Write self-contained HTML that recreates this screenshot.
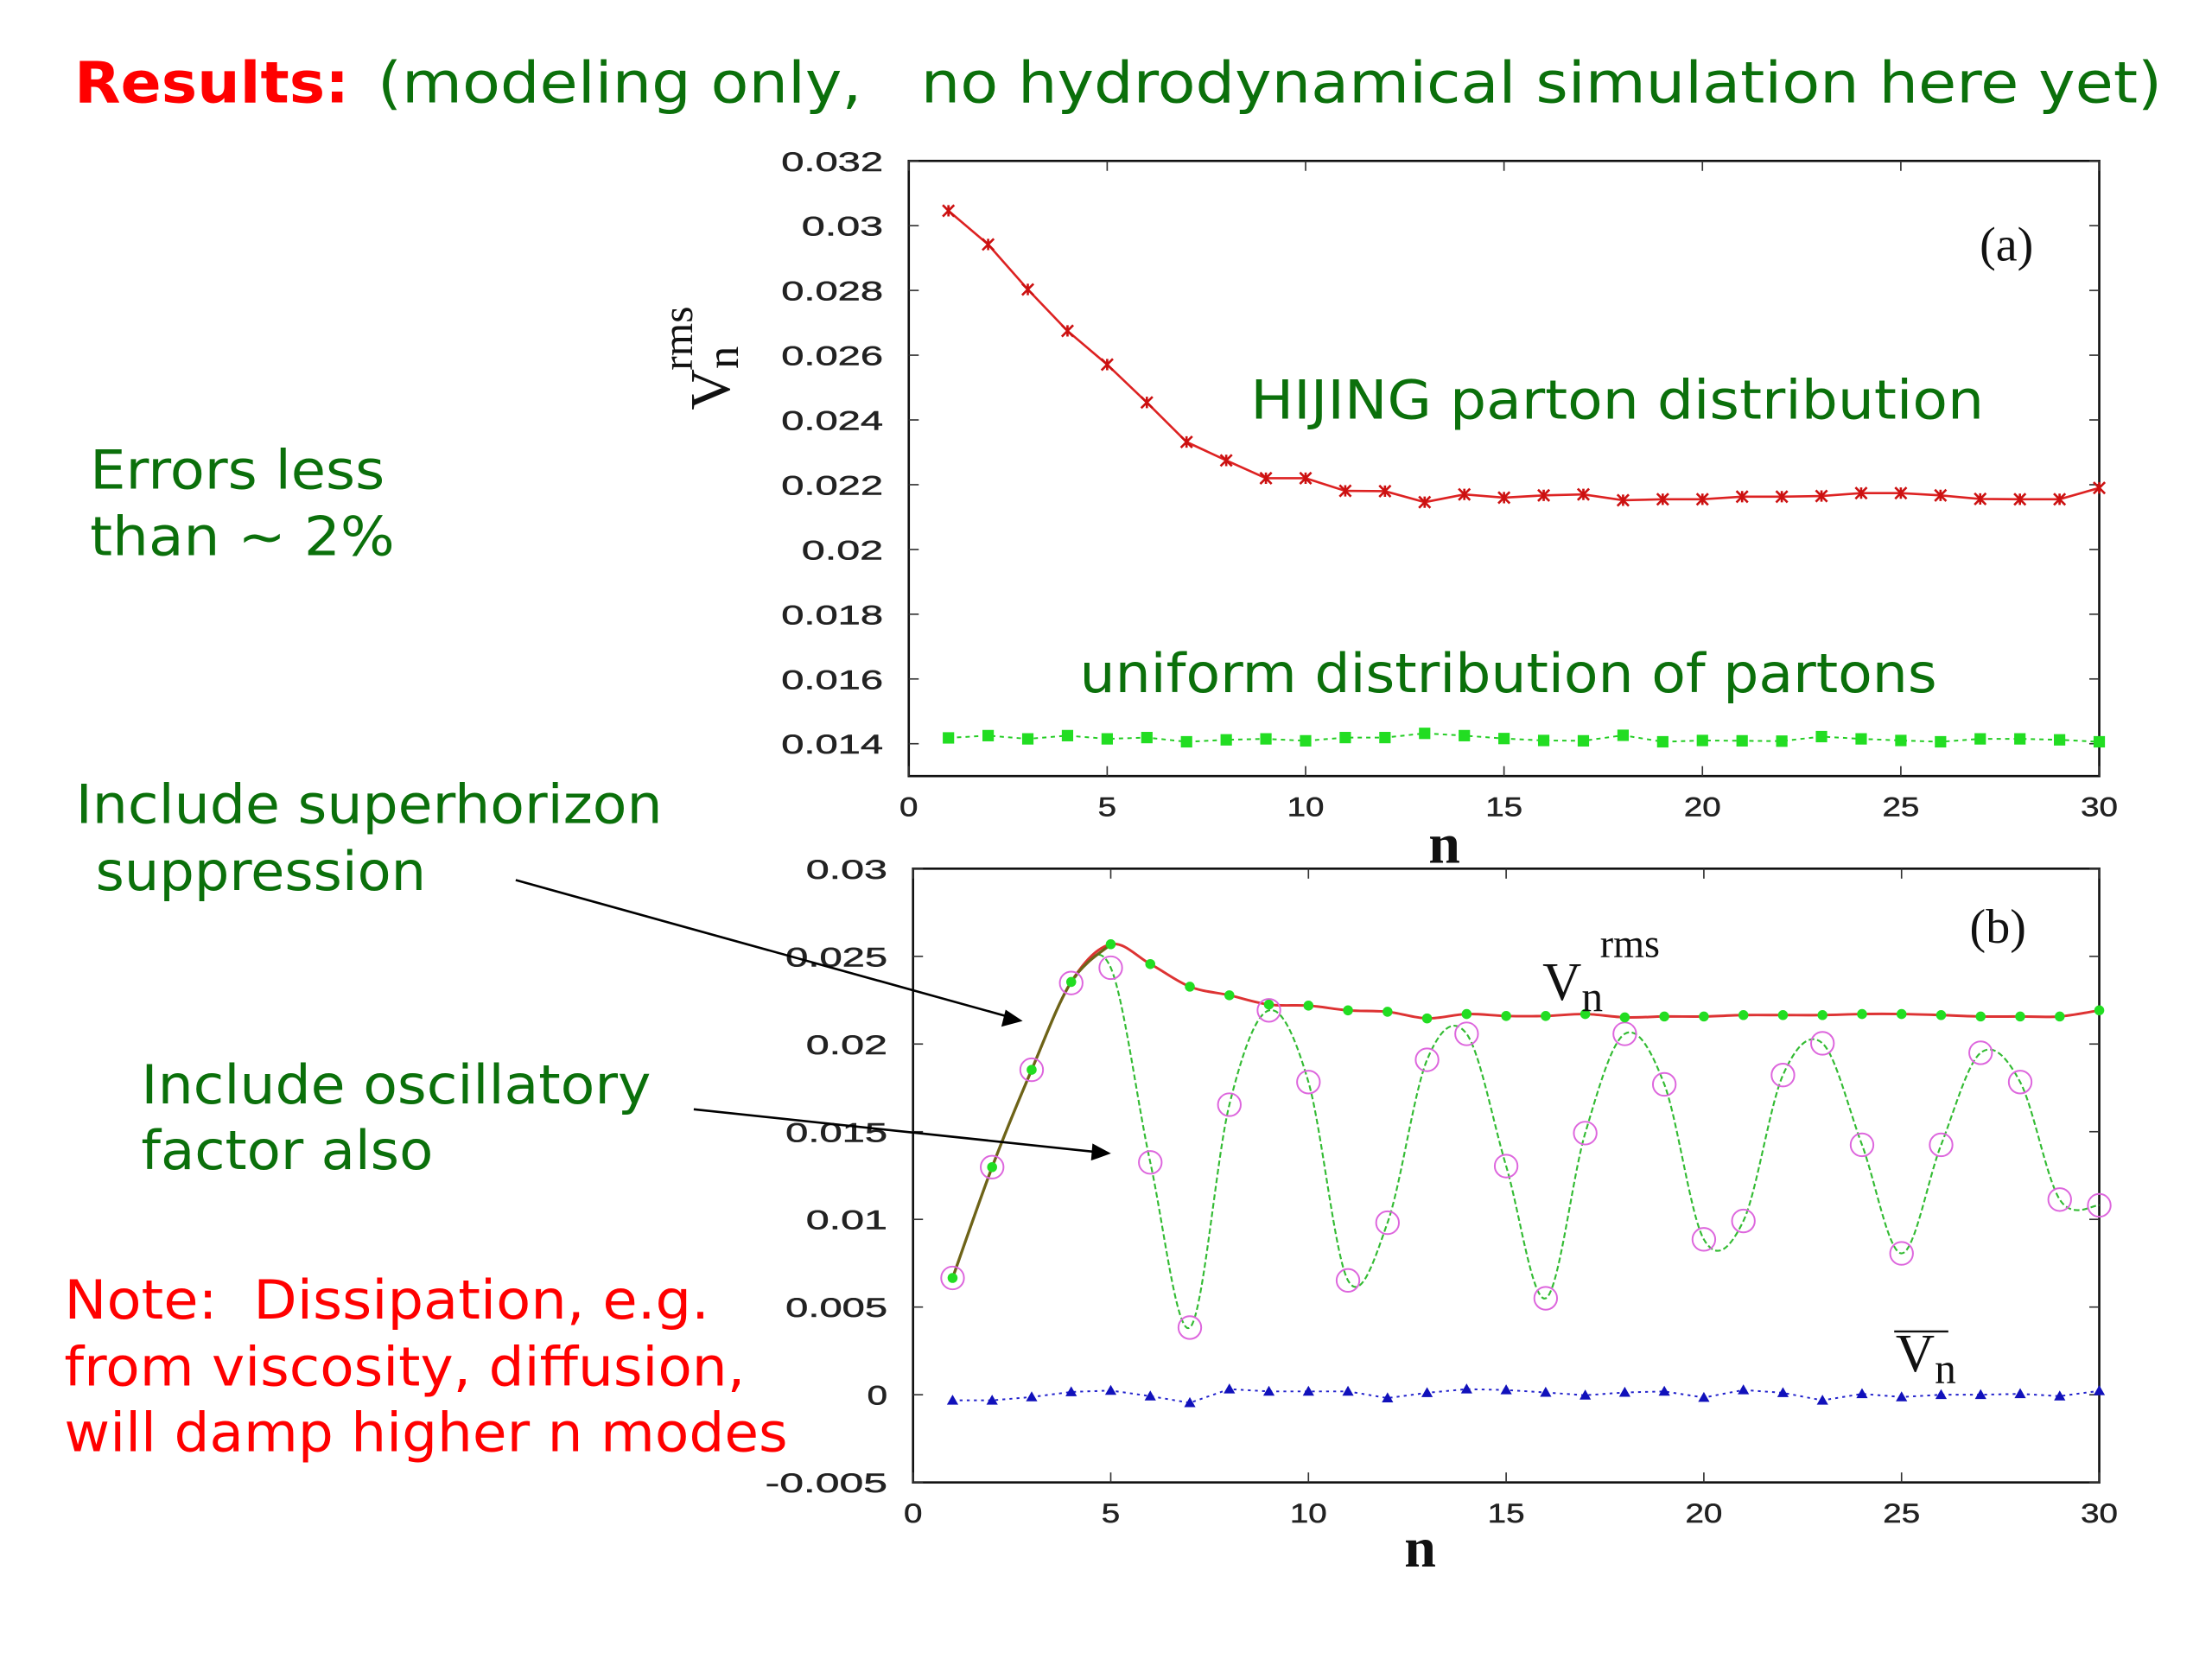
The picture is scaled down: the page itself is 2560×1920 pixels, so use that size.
<!DOCTYPE html>
<html><head><meta charset="utf-8"><style>
html,body{margin:0;padding:0;background:#fff;}
svg{display:block;}
.g{fill:#0b700b;font-family:"DejaVu Sans","Liberation Sans",sans-serif;font-size:38px;}
.r{fill:#f00;font-family:"DejaVu Sans","Liberation Sans",sans-serif;font-size:38px;}
.tk{fill:#222;font-family:"Liberation Sans",sans-serif;font-size:19px;stroke:#222;stroke-width:0.3;}
.sf{font-family:"Liberation Serif",serif;fill:#111;}
</style></head><body>
<svg id="root" width="2560" height="1920" viewBox="0 0 1553 1165" xmlns="http://www.w3.org/2000/svg">
<text x="52" y="72" class="r" style="font-weight:bold;font-size:40px" textLength="193" lengthAdjust="spacingAndGlyphs">Results:</text>
<text x="265" y="72" class="g" style="font-size:40px" textLength="1253" lengthAdjust="spacingAndGlyphs">(modeling only,&#160;&#160; no hydrodynamical simulation here yet)</text>
<text x="63" y="343" class="g" textLength="207" lengthAdjust="spacingAndGlyphs">Errors less</text>
<text x="63" y="390" class="g" textLength="214" lengthAdjust="spacingAndGlyphs">than ~ 2%</text>
<text x="53" y="578" class="g" textLength="412" lengthAdjust="spacingAndGlyphs">Include superhorizon</text>
<text x="67" y="625" class="g" textLength="232" lengthAdjust="spacingAndGlyphs">suppression</text>
<text x="99" y="775" class="g" textLength="358" lengthAdjust="spacingAndGlyphs">Include oscillatory</text>
<text x="99" y="821" class="g" textLength="205" lengthAdjust="spacingAndGlyphs">factor also</text>
<text x="45" y="926" class="r" textLength="453" lengthAdjust="spacingAndGlyphs">Note:&#160; Dissipation, e.g.</text>
<text x="45" y="973" class="r" textLength="478" lengthAdjust="spacingAndGlyphs">from viscosity, diffusion,</text>
<text x="45" y="1019" class="r" textLength="508" lengthAdjust="spacingAndGlyphs">will damp higher n modes</text>
<g id="plots"></g>
<g>
<line x1="362" y1="618" x2="708" y2="714" stroke="#000" stroke-width="1.6"/>
<polygon points="718,717 703,721 706,709" fill="#000"/>
<line x1="487" y1="779" x2="770" y2="809" stroke="#000" stroke-width="1.6"/>
<polygon points="780,810 766,815 767,803" fill="#000"/>
</g>
</svg>
<script>
const nVals = Array.from({length:30},(_,i)=>i+1);
const hijingA = [0.03046,0.02942,0.02803,0.02675,0.02571,0.02454,0.02332,0.02275,0.0222,0.0222,0.02181,0.0218,0.02146,0.0217,0.0216,0.02167,0.0217,0.02152,0.02155,0.02155,0.02163,0.02163,0.02165,0.02174,0.02174,0.02167,0.02156,0.02155,0.02155,0.0219];
const uniformA = [0.01418,0.01425,0.01415,0.01425,0.01415,0.01419,0.01406,0.01412,0.01415,0.01409,0.01419,0.01419,0.01432,0.01425,0.01416,0.0141,0.01409,0.01426,0.01406,0.0141,0.01409,0.01408,0.01422,0.01415,0.0141,0.01406,0.01415,0.01415,0.01412,0.01406];
const rmsB = [0.00666,0.01298,0.01853,0.02354,0.02569,0.02456,0.02327,0.02278,0.02225,0.02219,0.02192,0.02184,0.02146,0.02171,0.0216,0.0216,0.02171,0.02152,0.02157,0.02157,0.02165,0.02165,0.02165,0.02171,0.02171,0.02165,0.02157,0.02157,0.02157,0.02192];
const oscB = [0.00666,0.01298,0.01853,0.02348,0.02435,0.01325,0.00383,0.01654,0.02192,0.01783,0.00652,0.00981,0.0191,0.02058,0.01304,0.0055,0.01492,0.02058,0.0177,0.00886,0.00991,0.01823,0.02004,0.01425,0.00806,0.01425,0.0195,0.01783,0.01113,0.0108];
const meanB = [-0.00032,-0.00032,-0.00013,0.00016,0.00024,-0.00008,-0.00046,0.00032,0.00019,0.00019,0.00019,-0.00019,0.00011,0.00032,0.00027,0.00013,-0.00003,0.00013,0.00019,-0.00016,0.00027,0.00011,-0.00032,0.00005,-0.00013,0,0,0.00005,-0.00008,0.00022];
const xTicks = [0,5,10,15,20,25,30];
const yTicksA = ["0.014","0.016","0.018","0.02","0.022","0.024","0.026","0.028","0.03","0.032"];
const yTicksB = ["-0.005","0","0.005","0.01","0.015","0.02","0.025","0.03"];

const NS="http://www.w3.org/2000/svg";
const plots=document.getElementById('plots');
function mk(tag,attrs,parent){const e=document.createElementNS(NS,tag);for(const k in attrs)e.setAttribute(k,attrs[k]);(parent||plots).appendChild(e);return e;}
function axes(x0,x1,y0,y1,xmin,xmax,ymin,ymax){return {x:v=>x0+(v-xmin)/(xmax-xmin)*(x1-x0),y:v=>y1-(v-ymin)/(ymax-ymin)*(y1-y0),x0,x1,y0,y1};}
function smooth(pts){let d=`M${pts[0][0]},${pts[0][1]}`;for(let i=0;i<pts.length-1;i++){const p0=pts[Math.max(0,i-1)],p1=pts[i],p2=pts[i+1],p3=pts[Math.min(pts.length-1,i+2)];d+=` C${p1[0]+(p2[0]-p0[0])/6},${p1[1]+(p2[1]-p0[1])/6} ${p2[0]-(p3[0]-p1[0])/6},${p2[1]-(p3[1]-p1[1])/6} ${p2[0]},${p2[1]}`;}return d;}
function frame(ax,yTicks,labX,xLabY,nameP){
  const g=mk('g',{});
  
  
  const r=mk('rect',{x:ax.x0,y:ax.y0,width:ax.x1-ax.x0,height:ax.y1-ax.y0,fill:'none',stroke:'#111','stroke-width':1.6},g);
  
  
  xTicks.forEach(t=>{const X=ax.x(t);mk('line',{x1:X,x2:X,y1:ax.y1,y2:ax.y1-7,stroke:'#333'},g);mk('line',{x1:X,x2:X,y1:ax.y0,y2:ax.y0+7,stroke:'#333'},g);
    const tx=mk('text',{x:X,y:xLabY,'text-anchor':'middle',class:'tk',textLength:String(t).length*13,lengthAdjust:'spacingAndGlyphs'},g);tx.textContent=t;
    
    });
  yTicks.forEach(t=>{const Y=ax.y(parseFloat(t));mk('line',{x1:ax.x0,x2:ax.x0+7,y1:Y,y2:Y,stroke:'#333'},g);mk('line',{x1:ax.x1,x2:ax.x1-7,y1:Y,y2:Y,stroke:'#333'},g);
    const tx=mk('text',{x:labX,y:Y+7,'text-anchor':'end',class:'tk',textLength:t.length*14.3,lengthAdjust:'spacingAndGlyphs'},g);tx.textContent=t;
    
    });
}
// Panel (a)
const A=axes(638,1474,113,545,0,30,0.013,0.032);
frame(A,yTicksA,620,573,'panel-a');
let p=mk('path',{d:'M'+nVals.map((n,i)=>A.x(n)+','+A.y(hijingA[i])).join(' L'),fill:'none',stroke:'#d22',"stroke-width":1.6});


nVals.forEach((n,i)=>{const X=A.x(n),Y=A.y(hijingA[i]);const m=mk('path',{d:`M${X-4},${Y-4}L${X+4},${Y+4}M${X-4},${Y+4}L${X+4},${Y-4}M${X},${Y-4}L${X},${Y+4}`,stroke:'#c11','stroke-width':1.6});
  
  });
p=mk('path',{d:'M'+nVals.map((n,i)=>A.x(n)+','+A.y(uniformA[i])).join(' L'),fill:'none',stroke:'#2c2',"stroke-width":1.2,"stroke-dasharray":"3,3"});


nVals.forEach((n,i)=>{const m=mk('rect',{x:A.x(n)-4,y:A.y(uniformA[i])-4,width:8,height:8,fill:'#2d2'});
  
  });
let t=mk('text',{x:878,y:294,class:'g',textLength:515,lengthAdjust:'spacingAndGlyphs'});t.textContent='HIJING parton distribution';


t=mk('text',{x:758,y:486,class:'g',textLength:602,lengthAdjust:'spacingAndGlyphs'});t.textContent='uniform distribution of partons';


t=mk('text',{x:1390,y:183,class:'sf','font-size':34});t.textContent='(a)';


t=mk('text',{x:1003,y:606,class:'sf','font-size':40,'font-weight':'bold'});t.textContent='n';


t=mk('text',{x:0,y:0,class:'sf','font-size':40,transform:'translate(512,288) rotate(-90)'});t.innerHTML='V<tspan dy="6" font-size="32">n</tspan><tspan dy="-32" dx="-17" font-size="30">rms</tspan>';


// Panel (b)
const B=axes(641,1474,610,1041,0,30,-0.005,0.03);
frame(B,yTicksB,623,1069,'panel-b');
p=mk('path',{d:smooth(nVals.map((n,i)=>[B.x(n),B.y(oscB[i])])),fill:'none',stroke:'#3b3',"stroke-width":1.3,"stroke-dasharray":"4,2"});


p=mk('path',{d:smooth(nVals.map((n,i)=>[B.x(n),B.y(rmsB[i])])),fill:'none',stroke:'#d33',"stroke-width":1.8});


p=mk('path',{d:smooth(nVals.slice(0,5).map((n,i)=>[B.x(n),B.y(rmsB[i])])),fill:'none',stroke:'#6d6418',"stroke-width":2});


nVals.forEach((n,i)=>{const c=mk('circle',{cx:B.x(n),cy:B.y(oscB[i]),r:8,fill:'none',stroke:'#d6d','stroke-width':1.2});
  
  });
nVals.forEach((n,i)=>{const c=mk('circle',{cx:B.x(n),cy:B.y(rmsB[i]),r:3.5,fill:'#2d2'});
  
  });
p=mk('path',{d:'M'+nVals.map((n,i)=>B.x(n)+','+B.y(meanB[i])).join(' L'),fill:'none',stroke:'#22c',"stroke-width":1.2,"stroke-dasharray":"2,3"});


nVals.forEach((n,i)=>{const X=B.x(n),Y=B.y(meanB[i]);const m=mk('polygon',{points:`${X},${Y-4} ${X+4},${Y+3} ${X-4},${Y+3}`,fill:'#11b'});
  
  });
t=mk('text',{x:1383,y:662,class:'sf','font-size':34});t.textContent='(b)';


t=mk('text',{x:1083,y:702,class:'sf','font-size':38});t.innerHTML='V<tspan dy="8" font-size="30">n</tspan><tspan dy="-38" dx="-2" font-size="28">rms</tspan>';


t=mk('text',{x:1331,y:963,class:'sf','font-size':38});t.innerHTML='V<tspan dy="8" font-size="30">n</tspan>';


mk('line',{x1:1330,x2:1368,y1:935,y2:935,stroke:'#111','stroke-width':1.5});
t=mk('text',{x:986,y:1100,class:'sf','font-size':40,'font-weight':'bold'});t.textContent='n';


</script>
</body></html>
